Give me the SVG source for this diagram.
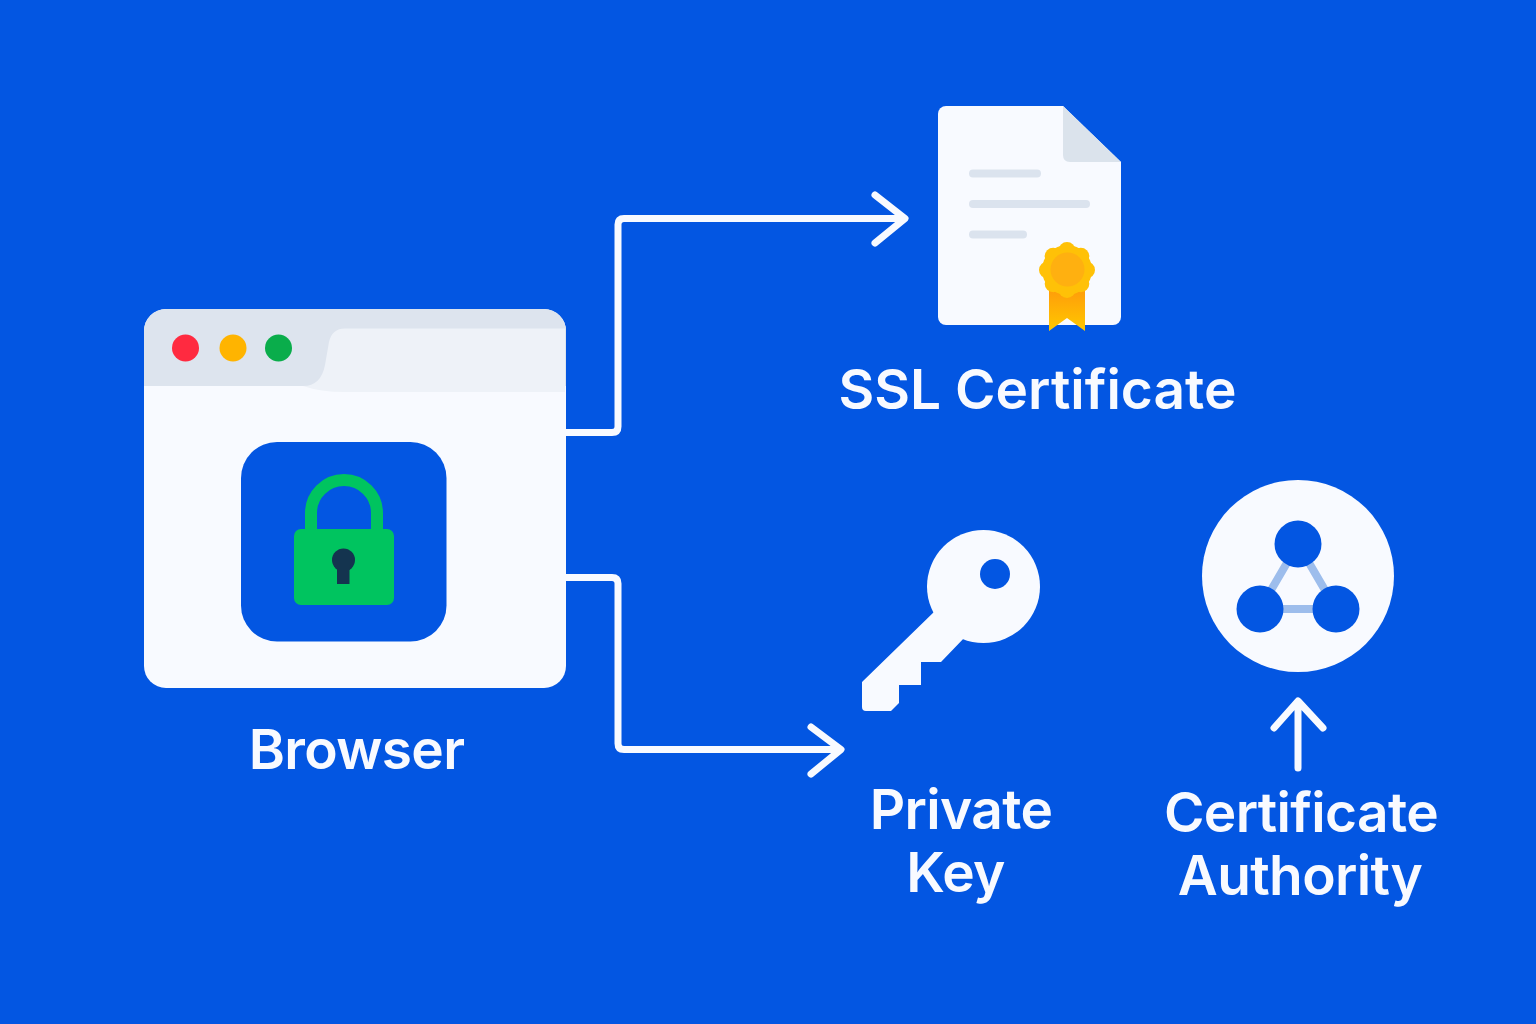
<svg xmlns="http://www.w3.org/2000/svg" width="1536" height="1024" viewBox="0 0 1536 1024">
<style>
.lbl{font-family:"Inter","Liberation Sans",sans-serif;font-size:55px;font-weight:600;fill:#f8faff;text-anchor:middle;letter-spacing:-0.65px}
.conn{fill:none;stroke:#f8faff;stroke-width:7;stroke-linecap:round;stroke-linejoin:round}
.w{fill:#f8faff}
.b{fill:#0356e2}
.bar{fill:#dbe3ee}
.seal{fill:#ffc107}
.net{stroke:#9dbdec;stroke-width:8}
</style>
<defs>
<linearGradient id="rib" x1="0" y1="0" x2="0" y2="1"><stop offset="0" stop-color="#ff9d0a"/><stop offset="1" stop-color="#ffc800"/></linearGradient>
</defs>
<rect width="1536" height="1024" class="b"/>
<g id="connectors">
<path class="conn" d="M566 432.500H612Q618 432.500 618 426.500V224.500Q618 218.500 624 218.500H904M875 195L905 218.500L875 243"/>
<path class="conn" d="M566 577.500H612Q618 577.500 618 583.500V743.500Q618 749.500 624 749.500H840M811 727L841 749.500L811 774"/>
<path class="conn" d="M1298 768V702M1274 728L1298 701L1323 728"/>
</g>
<g id="browser">
<rect class="w" x="144" y="309" width="422" height="379" rx="22"/>
<path fill="#dde4ee" d="M144 386V331a22 22 0 0 1 22-22H544a22 22 0 0 1 22 22V386Z"/>
<path fill="#eef2f8" d="M565 328.500H345Q332 328.500 329 342L325 365Q321 386 303 386Q320 392 345 392H565Z"/>
<circle cx="185.500" cy="348" r="13.500" fill="#ff2a40"/>
<circle cx="233" cy="348" r="13.500" fill="#ffb400"/>
<circle cx="278.500" cy="348" r="13.500" fill="#0aad4b"/>
<rect class="b" x="241" y="442" width="205.500" height="199.500" rx="36"/>
<path d="M311 532V513a33 33 0 0 1 66 0V532" fill="none" stroke="#00c45f" stroke-width="12"/>
<rect x="294" y="529" width="100" height="76" rx="7" fill="#00c45f"/>
<circle cx="343.500" cy="560" r="11.500" fill="#14344f"/>
<rect x="337" y="565" width="12.500" height="19" fill="#14344f"/>
<text class="lbl" x="356.500" y="768.500">Browser</text>
</g>
<g id="ssl-certificate">
<path class="w" d="M946 106H1063L1121 162V317a8 8 0 0 1-8 8H946a8 8 0 0 1-8-8V114a8 8 0 0 1 8-8Z"/>
<path fill="#dbe3ec" d="M1063 106L1121 162H1070Q1063 162 1063 155Z"/>
<rect class="bar" x="969" y="169.500" width="72" height="8" rx="4"/>
<rect class="bar" x="969" y="200" width="121" height="8" rx="4"/>
<rect class="bar" x="969" y="230.500" width="58" height="8" rx="4"/>
<path fill="url(#rib)" d="M1049 290H1085V331L1067 318L1049 331Z"/>
<g class="seal">
<circle cx="1067" cy="270" r="25"/>
<circle cx="1067" cy="250.500" r="8.500"/><circle cx="1067" cy="289.500" r="8.500"/><circle cx="1047.500" cy="270" r="8.500"/><circle cx="1086.500" cy="270" r="8.500"/>
<circle cx="1053.200" cy="256.200" r="8.500"/><circle cx="1080.800" cy="256.200" r="8.500"/><circle cx="1053.200" cy="283.800" r="8.500"/><circle cx="1080.800" cy="283.800" r="8.500"/>
</g>
<circle cx="1067.500" cy="269.500" r="17" fill="#ffb010"/>
<text class="lbl" x="1037.500" y="408.500" style="letter-spacing:0">SSL Certificate</text>
</g>
<g id="private-key">
<circle class="w" cx="983.500" cy="586.500" r="56.500"/>
<path class="w" d="M936 610L862 682V707Q862 711 866 711H891L899 703V685H921V662H941L966 636Z"/>
<circle class="b" cx="995" cy="574" r="15"/>
<text class="lbl" x="961" y="828.500">Private</text>
<text class="lbl" x="955.500" y="891.500">Key</text>
</g>
<g id="certificate-authority">
<circle class="w" cx="1298" cy="576" r="96"/>
<path class="net" d="M1298 544L1260 609H1336Z" fill="none"/>
<circle class="b" cx="1298" cy="544" r="23.500"/>
<circle class="b" cx="1260" cy="609" r="23.500"/>
<circle class="b" cx="1336" cy="609" r="23.500"/>
<text class="lbl" x="1301" y="831.500">Certificate</text>
<text class="lbl" x="1300" y="894.500">Authority</text>
</g>
</svg>
